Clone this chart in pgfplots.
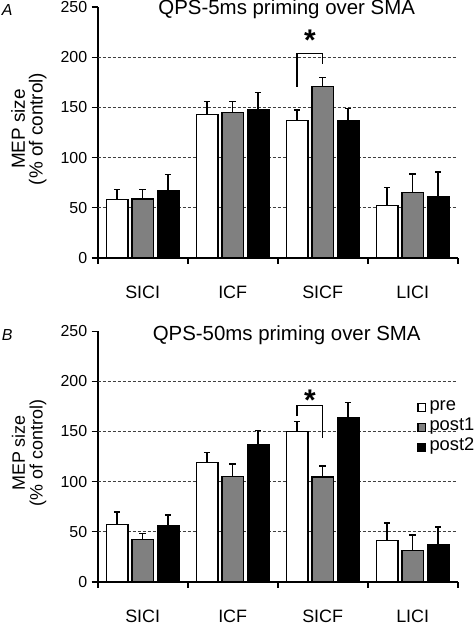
\documentclass[border=0pt]{standalone}
\usepackage{pgfplots}
\pgfplotsset{compat=1.18}
\usepackage{fontspec}
\setmainfont{Liberation Sans}

\definecolor{midgray}{RGB}{128,128,128}

\pgfplotsset{
  panel/.style={
    width=360bp, height=250.4bp, scale only axis,
    xmin=-0.5, xmax=3.5, ymin=0, ymax=250,
    axis x line=bottom, axis y line=left,
    axis line style={-, line width=1.6bp, black},
    ybar=4bp, bar width=21.5bp,
    ytick={0,50,100,150,200,250},
    tick align=outside, major tick length=6bp,
    tick style={line width=1.6bp, black},
    /pgf/number format/assume math mode=true,
    yticklabel style={font=\fontsize{16}{16}\selectfont, xshift=-1bp},
    xtick={-0.5,0.5,1.5,2.5,3.5}, xticklabels={},
    extra x ticks={0,1,2,3},
    extra x tick labels={SICI,ICF,SICF,LICI},
    extra x tick style={major tick length=0pt,
      xticklabel style={font=\fontsize{18}{18}\selectfont, yshift=-25bp}},
    extra y ticks={50,100,150,200}, extra y tick labels={},
    extra y tick style={grid=major, major tick length=0pt},
    major grid style={line width=0.8bp, black!75, dash pattern=on 3bp off 2bp},
    every axis plot/.append style={draw=black, line width=1.4bp},
    error bars/y dir=plus, error bars/y explicit,
    error bars/error bar style={line width=1.5bp, black},
    error bars/error mark options={rotate=90, mark size=3.2bp, line width=1.5bp, black},
  }
}

\begin{document}
\begin{tikzpicture}
\useasboundingbox (-97.7bp,-368.3bp) rectangle (378.3bp,257.7bp);

% ---------------- Panel A ----------------
\begin{axis}[panel, at={(0,0)}, anchor=south west]
\addplot[fill=white] coordinates {(0,58.0) +- (0,10.0) (1,142.7) +- (0,13.0) (2,136.7) +- (0,10.7) (3,52.0) +- (0,18.0)};
\addplot[fill=midgray] coordinates {(0,58.6) +- (0,9.4) (1,144.7) +- (0,11.0) (2,170.7) +- (0,9.0) (3,65.0) +- (0,18.5)};
\addplot[fill=black] coordinates {(0,67.0) +- (0,16.0) (1,147.7) +- (0,17.0) (2,137.0) +- (0,12.0) (3,60.6) +- (0,25.0)};
\draw[line width=1.5bp] (axis cs:1.7167,170.6) -- (axis cs:1.7167,204) -- (axis cs:2,204) -- (axis cs:2,193);
\node[font=\fontsize{30}{30}\selectfont\bfseries, anchor=base] at (axis cs:1.858,207) {*};
\end{axis}
\node[anchor=base, font=\fontsize{20.5}{20.5}\selectfont] at (189bp,242.7bp) {QPS-5ms priming over SMA};
\node[anchor=base west, inner sep=0pt, font=\fontsize{16}{16}\selectfont\itshape] at (-96bp,241.7bp) {A};
\node[rotate=90, anchor=base, inner sep=0pt, font=\fontsize{19}{19}\selectfont] at (-72.7bp,128.7bp) {MEP size};
\node[rotate=90, anchor=base, inner sep=0pt, font=\fontsize{19}{19}\selectfont] at (-55bp,128.7bp) {(\% of control)};

% ---------------- Panel B ----------------
\begin{axis}[panel, at={(0,-324bp)}, anchor=south west]
\addplot[fill=white] coordinates {(0,57.1) +- (0,12.7) (1,118.9) +- (0,10.3) (2,149.8) +- (0,10.0) (3,41.2) +- (0,17.6)};
\addplot[fill=midgray] coordinates {(0,41.9) +- (0,6.3) (1,105.3) +- (0,12.3) (2,104.7) +- (0,10.9) (3,30.9) +- (0,15.6)};
\addplot[fill=black] coordinates {(0,55.5) +- (0,10.9) (1,136.9) +- (0,13.9) (2,163.8) +- (0,15.2) (3,37.2) +- (0,17.3)};
\draw[line width=1.5bp] (axis cs:1.7167,165.4) -- (axis cs:1.7167,175.7) -- (axis cs:2,175.7) -- (axis cs:2,143.9);
\node[font=\fontsize{30}{30}\selectfont\bfseries, anchor=base] at (axis cs:1.858,171) {*};
\end{axis}
\node[anchor=base, font=\fontsize{20.5}{20.5}\selectfont] at (189bp,-83bp) {QPS-50ms priming over SMA};
\node[anchor=base west, inner sep=0pt, font=\fontsize{16}{16}\selectfont\itshape] at (-96bp,-82.3bp) {B};
\node[rotate=90, anchor=base, inner sep=0pt, font=\fontsize{18}{18}\selectfont] at (-72.7bp,-195.3bp) {MEP size};
\node[rotate=90, anchor=base, inner sep=0pt, font=\fontsize{18}{18}\selectfont] at (-55bp,-195.3bp) {(\% of control)};

% legend
\foreach \yy/\cc/\lab in {-149.8/white/pre, -169.8/midgray/post1, -189.8/black/post2} {
  \draw[line width=1.2bp, fill=\cc] (320.2bp,\yy bp-3.7bp) rectangle (327.6bp,\yy bp+3.7bp);
  \node[anchor=mid west, inner sep=0pt, font=\fontsize{18.4}{18.4}\selectfont] at (331.6bp,\yy bp) {\lab};
}
\end{tikzpicture}
\end{document}
